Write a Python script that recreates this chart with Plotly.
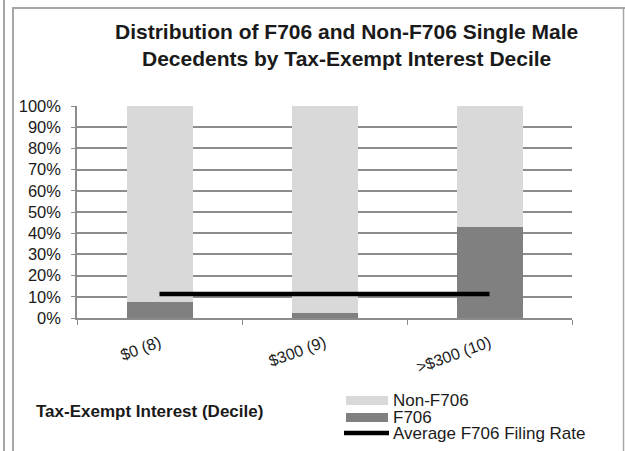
import plotly.graph_objects as go

categories = ["$0 (8)", "$300 (9)", ">$300 (10)"]
f706 = [7.5, 2.5, 43.1]
non_f706 = [100 - v for v in f706]
avg_rate = [11.3, 11.3, 11.3]
legend_labels = ["Non-F706", "F706", "Average F706 Filing Rate"]

W, H = 625, 451
L, R, T, B = 77, 53, 106, 133
PW, PH = W - L - R, H - T - B

def px(x):
    return (x - L) / PW

def py(y):
    return (H - B - y) / PH

FONT = "Arial"
C_NON = "#D9D9D9"
C_F = "#808080"
GRID = "#8C8C8C"
FRAME = "#A6A6A6"

fig = go.Figure()
fig.add_trace(go.Bar(x=categories, y=f706, name=legend_labels[1], marker_color=C_F,
                     marker_line_width=0, width=0.4, showlegend=False, hoverinfo="skip"))
fig.add_trace(go.Bar(x=categories, y=non_f706, name=legend_labels[0], marker_color=C_NON,
                     marker_line_width=0, width=0.4, showlegend=False, hoverinfo="skip"))
fig.add_trace(go.Scatter(x=categories, y=avg_rate, mode="lines", name=legend_labels[2],
                         line=dict(color="black", width=4.5), showlegend=False, hoverinfo="skip"))

shapes = [
    dict(type="line", xref="paper", yref="paper", x0=px(4), x1=px(4), y0=py(0), y1=py(451),
         line=dict(color=FRAME, width=2)),
    dict(type="line", xref="paper", yref="paper", x0=px(13), x1=px(13), y0=py(8), y1=py(451),
         line=dict(color=FRAME, width=2)),
    dict(type="line", xref="paper", yref="paper", x0=px(12), x1=px(625), y0=py(8), y1=py(8),
         line=dict(color=FRAME, width=2)),
    dict(type="line", xref="paper", yref="paper", x0=px(623.5), x1=px(623.5), y0=py(8), y1=py(451),
         line=dict(color=FRAME, width=1.5)),
    dict(type="rect", xref="paper", yref="paper", x0=px(346), x1=px(388), y0=py(396), y1=py(405),
         fillcolor=C_NON, line_width=0),
    dict(type="rect", xref="paper", yref="paper", x0=px(346), x1=px(388), y0=py(413), y1=py(422),
         fillcolor=C_F, line_width=0),
    dict(type="line", xref="paper", yref="paper", x0=px(344), x1=px(389), y0=py(433), y1=py(433),
         line=dict(color="black", width=4.5)),
]

annotations = [
    dict(text="<b>Distribution of F706 and Non-F706 Single Male<br>Decedents by Tax-Exempt Interest Decile</b>",
         xref="paper", yref="paper", x=px(346), y=py(45), xanchor="center", yanchor="middle",
         showarrow=False, font=dict(family=FONT, size=21, color="#1a1a1a"), align="center"),
    dict(text="<b>Tax-Exempt Interest (Decile)</b>", xref="paper", yref="paper",
         x=px(34), y=py(411), xanchor="left", yanchor="middle", showarrow=False,
         font=dict(family=FONT, size=17, color="#1a1a1a")),
]
for lbl, yc in zip(legend_labels, [400, 417, 433]):
    annotations.append(dict(text=lbl, xref="paper", yref="paper", x=px(391), y=py(yc),
                            xanchor="left", yanchor="middle", showarrow=False,
                            font=dict(family=FONT, size=17, color="#1a1a1a")))

fig.update_layout(
    width=W, height=H, barmode="stack",
    margin=dict(l=L, r=R, t=T, b=B, autoexpand=False),
    paper_bgcolor="white", plot_bgcolor="white",
    font=dict(family=FONT, size=16, color="#1a1a1a"),
    shapes=shapes, annotations=annotations, hovermode=False,
    xaxis=dict(type="category", tickangle=-20, showgrid=False, showline=True,
               linecolor=GRID, linewidth=1.5, ticks="outside", tickson="boundaries",
               ticklen=5, tickcolor=GRID, tickfont=dict(size=16), range=[-0.5, 2.5],
               ticklabelstandoff=8),
    yaxis=dict(range=[0, 100], tickvals=list(range(0, 101, 10)),
               ticktext=[f"{v}%" for v in range(0, 101, 10)],
               showgrid=True, gridcolor=GRID, gridwidth=1.5, showline=True,
               linecolor=GRID, linewidth=1.5, ticks="outside", ticklen=4, tickcolor=GRID,
               zeroline=False, tickfont=dict(size=16.5), ticklabelstandoff=7),
)

fig.write_html("out.html", config={"displayModeBar": False},
               post_script="document.body.style.margin='0';")
